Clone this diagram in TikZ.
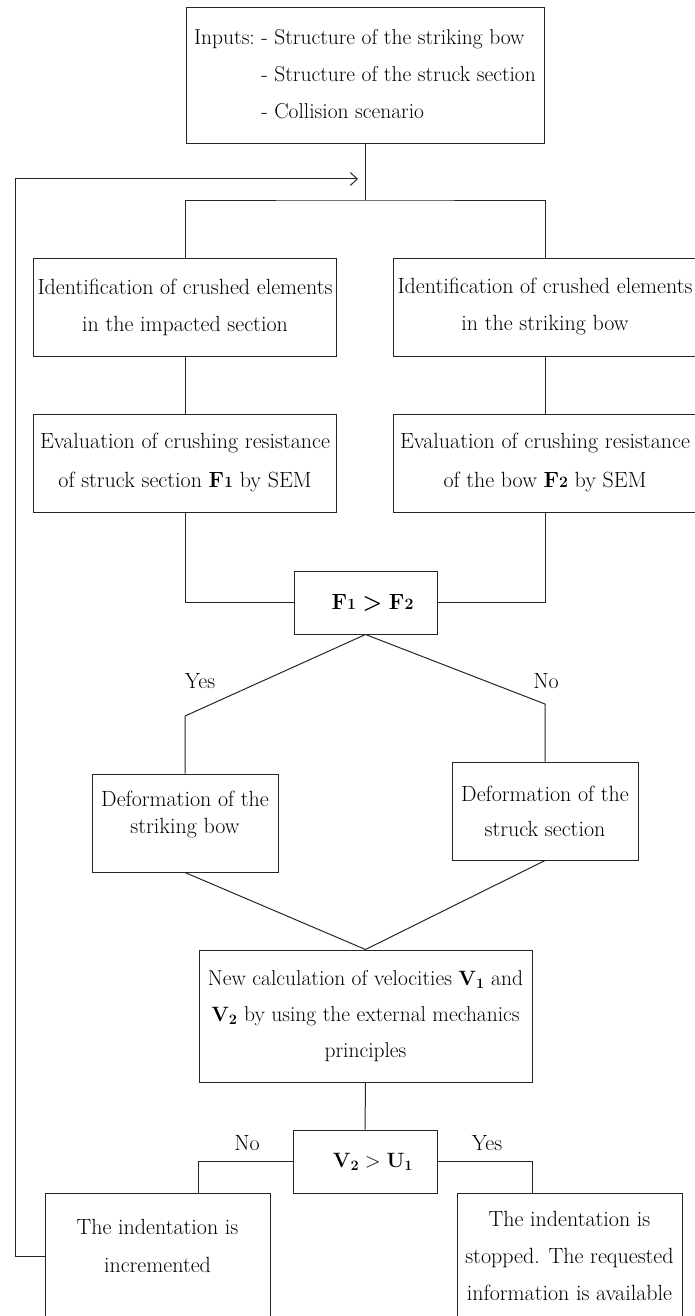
\documentclass[tikz,border=0pt]{standalone}
\usetikzlibrary{arrows.meta}

\tikzset{every picture/.style={line width=1pt}}
\tikzset{
  blk/.style={draw=black!85, inner sep=0pt, align=center, font=\fontsize{22}{37}\selectfont},
  tx/.style={inner sep=0pt, align=center, font=\fontsize{22}{37}\selectfont},
  lbl/.style={inner sep=0.75pt, font=\fontsize{22}{26}\selectfont},
  cnx/.style={draw=black!85}
}
\newcommand{\Fres}[1]{\textbf{F\scalebox{0.72}{#1}}}

\begin{document}
\begin{tikzpicture}[x=1pt,y=1pt,yscale=-1,xscale=1]
    \useasboundingbox (0,0) rectangle (694,1316);
    %Shape: Rectangle [inputs]
    \node[blk, align=left, minimum width=358, minimum height=136, font=\fontsize{21.5}{37}\selectfont] (inp) at (365,76) {Inputs:\ - Structure of the striking bow\\ \phantom{Inputs:\ }- Structure of the struck section\\ \phantom{Inputs:\ }- Collision scenario};
    %Shape: Rectangle [identification]
    \node[blk, minimum width=303, minimum height=98] (idl) at (185,307) {Identification of crushed elements\\ in the impacted section};
    \node[blk, minimum width=303, minimum height=98] (idr) at (545,307) {Identification of crushed elements\\ in the striking bow};
    %Shape: Rectangle [evaluation]
    \node[blk, minimum width=303, minimum height=98, font=\fontsize{22}{39}\selectfont] (evl) at (185,463) {Evaluation of crushing resistance\\ of struck section \Fres{1} by SEM};
    \node[blk, minimum width=303, minimum height=98, font=\fontsize{22}{39}\selectfont] (evr) at (545,463) {Evaluation of crushing resistance\\ of the bow \Fres{2} by SEM};
    %Shape: Rectangle [comparison]
    \node[blk, minimum width=143, minimum height=63] (cmp) at (365.5,602.5) {\hspace{14pt}\Fres{1} \textbf{>} \Fres{2}};
    %Shape: Rectangle [deformation]
    \node[blk, minimum width=186, minimum height=98, label={[tx, font=\fontsize{22}{27}\selectfont, yshift=8]center:{Deformation of the\\ striking bow}}] (dfl) at (185,823) {};
    \node[blk, minimum width=186, minimum height=98, font=\fontsize{22}{35}\selectfont] (dfr) at (545,811) {Deformation of the\\ struck section};
    %Shape: Rectangle [velocities]
    \node[blk, minimum width=333, minimum height=132, font=\fontsize{21.5}{36}\selectfont] (nwc) at (365.5,1016) {New calculation of velocities $\mathbf{V_1}$ and\\ $\mathbf{V_2}$ by using the external mechanics\\ principles};
    %Shape: Rectangle [check]
    \node[blk, minimum width=144, minimum height=63] (chk) at (365,1161.5) {\hspace{16pt}$\mathbf{V_2} > \mathbf{U_1}$};
    %Shape: Rectangle [results]
    \node[blk, minimum width=225, minimum height=126, label={[tx, font=\fontsize{22}{38}\selectfont, yshift=10]center:{The indentation is\\ incremented}}] (inc) at (157.5,1256) {};
    \node[blk, minimum width=225, minimum height=126] (stp) at (569.5,1256) {The indentation is\\ stopped. The requested\\ information is available};
    % Text Node
    \node[lbl] (yes1) at (200,681) {Yes};
    \node[lbl] (no1) at (546,681) {No};
    \node[lbl] (no2) at (247,1143) {No};
    \node[lbl] (yes2) at (487,1143) {Yes};
    %Straight Lines
    \coordinate (jn) at (365,200);
    \coordinate (kl) at (185,716);
    \coordinate (kr) at (545,704);
    \coordinate (lp) at (15,179);
    \coordinate (ar) at (358,179);
    \draw[cnx] (inp.south) -- (jn);
    \draw[cnx] (idl.north) |- (jn) -| (idr.north);
    \draw[cnx] (idl.south) -- (evl.north);
    \draw[cnx] (idr.south) -- (evr.north);
    \draw[cnx] (evl.south) |- (cmp.west);
    \draw[cnx] (evr.south) |- (cmp.east);
    \draw[cnx] (cmp.south) -- (kl) -- (dfl.north);
    \draw[cnx] (cmp.south) -- (kr) -- (dfr.north);
    \draw[cnx] (dfl.south) -- (nwc.north) -- (dfr.south);
    \draw[cnx] (nwc.south) -- (chk.north);
    \draw[cnx] (chk.west) -| (nwc.west |- inc.north);
    \draw[cnx] (chk.east) -| (nwc.east |- stp.north);
    \draw[cnx, -{Straight Barb[length=7pt, width=13pt]}] (inc.west) -| (lp) -- (ar);
\end{tikzpicture}
\end{document}
